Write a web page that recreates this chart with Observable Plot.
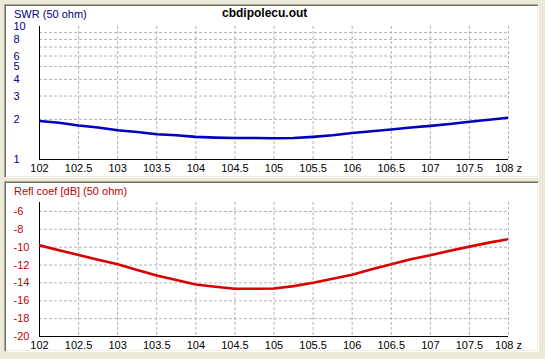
<!DOCTYPE html>
<html><head><meta charset="utf-8">
<script src="https://cdn.jsdelivr.net/npm/d3@7"></script>
<script src="https://cdn.jsdelivr.net/npm/@observablehq/plot@0.6"></script>
<style>
html,body{margin:0;padding:0;}
body{background:#ECE9D8;width:545px;height:359px;overflow:hidden;position:relative;font-family:"Liberation Sans",Arial,sans-serif;}
.panel{position:absolute;box-sizing:border-box;left:4px;width:535px;background:#fff;border:1px solid;border-color:#ACA899 #fff #fff #ACA899;box-shadow:inset 1px 1px 0 #716F64, inset -1px -1px 0 #F1EFE2;}
.panel svg{position:absolute;left:0;top:0;}
.lab{position:absolute;font-size:11px;white-space:nowrap;}
</style>
</head><body>
<div class="panel" id="p1" style="top:4px;height:174px;"></div>
<div class="panel" id="p2" style="top:181px;height:171px;"></div>
<div class="lab" style="left:222px;top:6px;font-weight:bold;font-size:12px;color:#000;">cbdipolecu.out</div>
<div class="lab" style="left:14px;top:8px;color:#000080;">SWR (50 ohm)</div>
<div class="lab" style="left:14px;top:185px;color:#C00000;">Refl coef [dB] (50 ohm)</div>
<script>
// Frequency samples (MHz)
const freq = [102,102.25,102.5,102.75,103,103.25,103.5,103.75,104,104.25,104.5,104.75,105,105.25,105.5,105.75,106,106.25,106.5,106.75,107,107.25,107.5,107.75,108];
// SWR values
const swr = [1.95,1.89,1.80,1.74,1.66,1.61,1.55,1.52,1.48,1.46,1.45,1.45,1.445,1.45,1.48,1.52,1.58,1.63,1.68,1.74,1.79,1.85,1.92,1.99,2.06];
// Reflection coefficient (dB)
const refl = [-9.8,-10.35,-10.87,-11.4,-11.92,-12.56,-13.16,-13.68,-14.17,-14.43,-14.65,-14.65,-14.63,-14.36,-13.98,-13.53,-13.08,-12.48,-11.92,-11.36,-10.91,-10.39,-9.94,-9.49,-9.11];
// Axis ticks
const xTicks = [102,102.5,103,103.5,104,104.5,105,105.5,106,106.5,107,107.5,108];
const swrTicks = [1,2,3,4,5,6,8,10];
const swrGrid = [2,3,4,5,6,7,8,9];
const reflTicks = [-6,-8,-10,-12,-14,-16,-18,-20];
const reflGrid = [-6,-8,-10,-12,-14,-16,-18];

const xFmt = d => d === 108 ? "108 z" : String(d);
const gridStyle = {stroke:"#b4b4b4", strokeOpacity:1, strokeDasharray:"3,2", strokeWidth:1};
const baseStyle = {background:"transparent", fontSize:"11px", fontFamily:"'Liberation Sans', Arial, sans-serif", overflow:"visible"};

const swrData = freq.map((f,i)=>({f, v:swr[i]}));
const reflData = freq.map((f,i)=>({f, v:refl[i]}));

const p1 = Plot.plot({
  width:533, height:172,
  marginLeft:34, marginRight:30, marginTop:21, marginBottom:18,
  style: baseStyle,
  x:{domain:[102,108], label:null},
  y:{type:"log", domain:[1,10], label:null},
  marks:[
    Plot.ruleY(swrGrid, gridStyle),
    Plot.ruleX(xTicks.slice(1), gridStyle),
    Plot.ruleX([102], {stroke:"#000"}),
    Plot.ruleY([1], {stroke:"#000"}),
    Plot.line(swrData, {x:"f", y:"v", stroke:"#0000C0", strokeWidth:2.6, clip:true}),
    Plot.axisY({ticks:swrTicks, tickSize:0, tickPadding:0, textAnchor:"start", dx:-26, fill:"#000080", tickFormat:d=>String(d), label:null}),
    Plot.axisX({ticks:xTicks, tickSize:0, tickPadding:5, fill:"#000", tickFormat:xFmt, label:null})
  ]
});
document.getElementById("p1").appendChild(p1);

const p2 = Plot.plot({
  width:533, height:169,
  marginLeft:34, marginRight:30, marginTop:20, marginBottom:15,
  style: baseStyle,
  x:{domain:[102,108], label:null},
  y:{domain:[-20,-5], label:null},
  marks:[
    Plot.ruleY(reflGrid, gridStyle),
    Plot.ruleX(xTicks.slice(1), gridStyle),
    Plot.ruleX([102], {stroke:"#000"}),
    Plot.ruleY([-20], {stroke:"#000"}),
    Plot.line(reflData, {x:"f", y:"v", stroke:"#D80000", strokeWidth:2.6, clip:true}),
    Plot.axisY({ticks:reflTicks, tickSize:0, tickPadding:0, textAnchor:"start", dx:-26, fill:"#C00000", tickFormat:d=>String(d), label:null}),
    Plot.axisX({ticks:xTicks, tickSize:0, tickPadding:5, fill:"#000", tickFormat:xFmt, label:null})
  ]
});
document.getElementById("p2").appendChild(p2);
</script>
</body></html>
